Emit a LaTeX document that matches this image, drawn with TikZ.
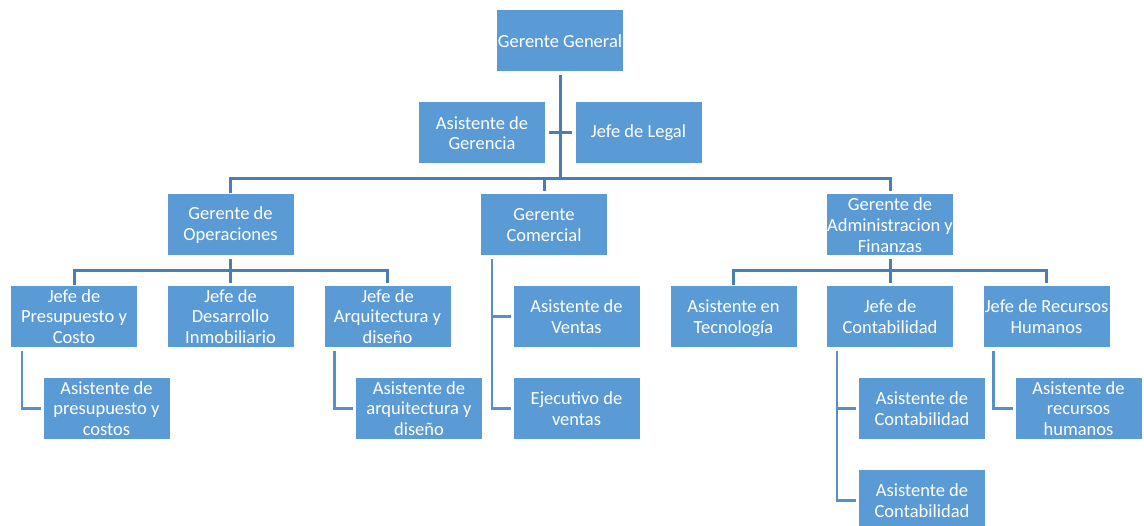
\documentclass[tikz,border=0pt]{standalone}
\usepackage{fontspec}
\setmainfont{Carlito}
\usepackage{tikz}
\usetikzlibrary{calc}
\definecolor{boxblue}{HTML}{5B9BD5}
\definecolor{lineblue}{HTML}{4A7EB3}
\definecolor{elbowblue}{HTML}{5690CC}

\begin{document}
\begin{tikzpicture}[x=1pt,y=-1pt,
		box/.style={fill=boxblue,draw=white,line width=1pt,text=white,minimum width=127pt,minimum height=62pt,inner sep=0pt,align=center,font=\fontsize{18.5}{20.7}\selectfont},
		link/.style={draw=lineblue,line width=3pt},
		sublink/.style={link,draw=elbowblue,line width=2.6pt,shorten >=2pt}]
			\useasboundingbox (0,0) rectangle (1144,526);
			\node[box] (gg) at (560,41) {Gerente General};
			\node[box] (asg) at (482,133) {Asistente de\\Gerencia};
			\node[box] (legal) at (638.5,133) {Jefe de Legal};
			\node[box] (gop) at (230.5,225) {Gerente de\\Operaciones};
			\node[box] (gcom) at (544,225) {Gerente\\Comercial};
			\node[box] (gadm) at (890,225) {Gerente de\\Administracion y\\Finanzas};
			\node[box] (jpres) at (74,316.5) {Jefe de\\Presupuesto y\\Costo};
			\node[box] (jdes) at (230.5,316.5) {Jefe de\\Desarrollo\\Inmobiliario};
			\node[box] (jarq) at (387.5,316.5) {Jefe de\\Arquitectura y\\diseño};
			\node[box] (apres) at (106.5,408.5) {Asistente de\\presupuesto y\\costos};
			\node[box] (aarq) at (419,408.5) {Asistente de\\arquitectura y\\diseño};
			\node[box] (aven) at (576.5,316.5) {Asistente de\\Ventas};
			\node[box] (ejven) at (576.5,408.5) {Ejecutivo de\\ventas};
			\node[box,text depth=0pt] (atec) at (733.5,316.5) {Asistente en\\Tecnología};
			\node[box] (jcont) at (890,316.5) {Jefe de\\Contabilidad};
			\node[box] (jrrhh) at (1046.5,316.5) {Jefe de Recursos\\Humanos};
			\node[box] (acont1) at (922,408.5) {Asistente de\\Contabilidad};
			\node[box] (acont2) at (922,500.5) {Asistente de\\Contabilidad};
			\node[box] (arrhh) at (1078.5,408.5) {Asistente de\\recursos\\humanos};
			\coordinate (b0) at (560,179);
			\coordinate (b1) at (230.5,271);
			\coordinate (b2) at (890,271);
			% upper levels
			\draw[link,shorten <=3pt] (gg.south) -- ([yshift=-1.5pt]b0);
			\draw[link,shorten <=3pt,shorten >=3pt] (asg.east) -- (legal.west);
			\draw[link,shorten >=2pt] (gop.north) |- (b0) -| (gadm.north);
			\draw[link,shorten >=2pt] (b0 -| gcom.north) -- (gcom.north);
			\draw[link,shorten <=3pt,shorten >=2pt] (gop.south) -- (jdes.north);
			\draw[link,shorten >=2pt] (jpres.north) |- (b1) -| (jarq.north);
			\draw[link,shorten <=3pt,shorten >=2pt] (gadm.south) -- (jcont.north);
			\draw[link,shorten >=2pt] (atec.north) |- (b2) -| (jrrhh.north);
			% assistants
			\draw[sublink] ([shift={(12pt,-3pt)}]jpres.south west) |- (apres.west);
			\draw[sublink] ([shift={(11pt,-3pt)}]jarq.south west) |- (aarq.west);
			\draw[sublink] ([shift={(12pt,-3pt)}]gcom.south west) |- (aven.west);
			\draw[sublink] ([shift={(12pt,-3pt)}]gcom.south west) |- (ejven.west);
			\draw[sublink] ([shift={(11pt,-3pt)}]jcont.south west) |- (acont1.west);
			\draw[sublink] ([shift={(11pt,-3pt)}]jcont.south west) |- (acont2.west);
			\draw[sublink] ([shift={(11pt,-3pt)}]jrrhh.south west) |- (arrhh.west);
		\end{tikzpicture}
\end{document}
